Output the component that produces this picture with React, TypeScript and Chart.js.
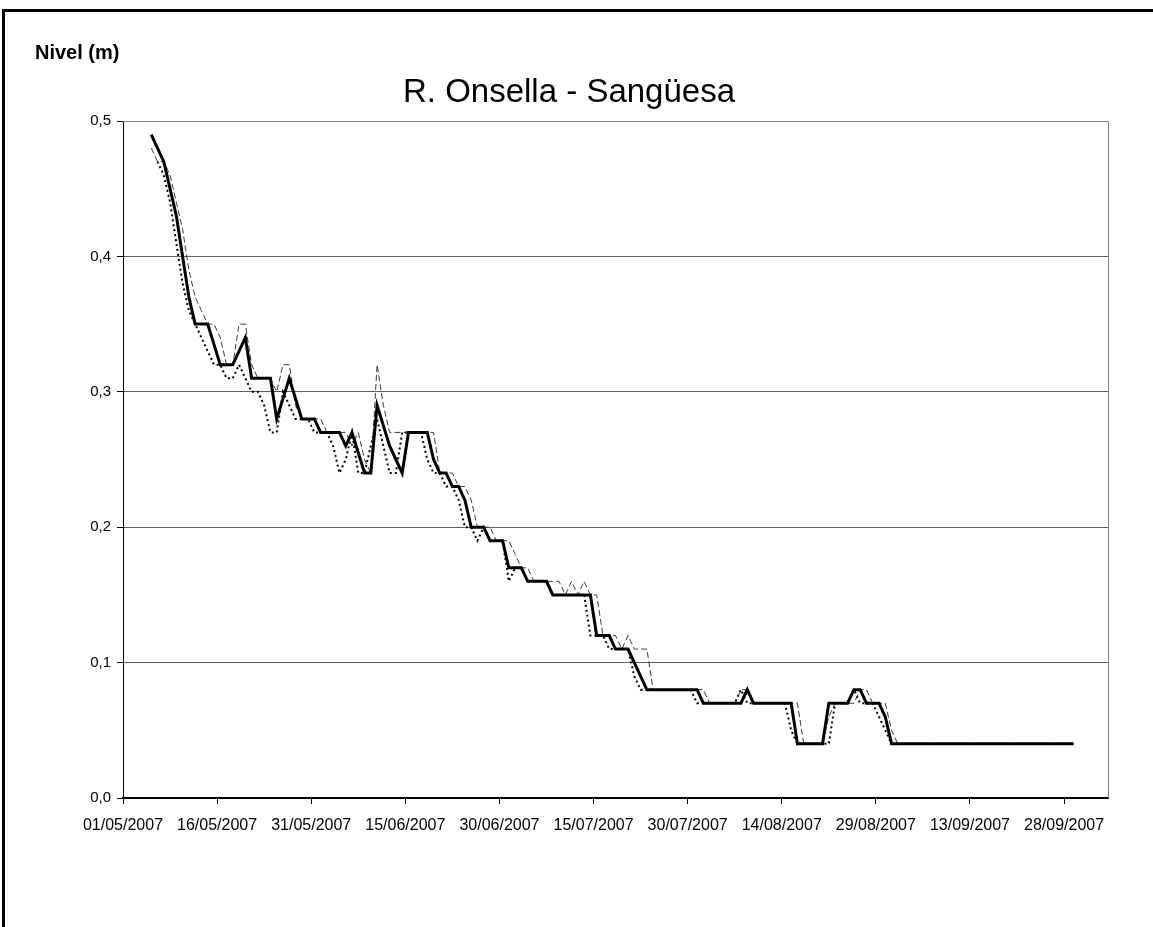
import React, { useEffect, useRef } from 'react';
import { Chart, registerables } from 'chart.js';

Chart.register(...registerables);

// ---------- text ----------
const TITLE = 'R. Onsella - Sangüesa';
const Y_LABEL = 'Nivel (m)';

// ---------- axes ----------
const AXIS_START = '01/05/2007';
const AXIS_END = '05/10/2007';
const xTickLabels = [
  '01/05/2007', '16/05/2007', '31/05/2007', '15/06/2007', '30/06/2007', '15/07/2007',
  '30/07/2007', '14/08/2007', '29/08/2007', '13/09/2007', '28/09/2007',
];
const yMin = 0;
const yMax = 0.5;
const yStep = 0.1;

// ---------- data: daily values from FIRST_DAY ----------
const FIRST_DAY = '05/05/2007';

// thick solid series
const nivelPrincipal = [
  0.49, 0.48, 0.47, 0.45, 0.43, 0.40, 0.37, 0.35, 0.35, 0.35,
  0.335, 0.32, 0.32, 0.32, 0.33, 0.34, 0.31, 0.31, 0.31, 0.31,
  0.28, 0.295, 0.31, 0.295, 0.28, 0.28, 0.28, 0.27, 0.27, 0.27,
  0.27, 0.26, 0.27, 0.255, 0.24, 0.24, 0.29, 0.275, 0.26, 0.25,
  0.24, 0.27, 0.27, 0.27, 0.27, 0.25, 0.24, 0.24, 0.23, 0.23,
  0.22, 0.20, 0.20, 0.20, 0.19, 0.19, 0.19, 0.17, 0.17, 0.17,
  0.16, 0.16, 0.16, 0.16, 0.15, 0.15, 0.15, 0.15, 0.15, 0.15,
  0.15, 0.12, 0.12, 0.12, 0.11, 0.11, 0.11, 0.10, 0.09, 0.08,
  0.08, 0.08, 0.08, 0.08, 0.08, 0.08, 0.08, 0.08, 0.07, 0.07,
  0.07, 0.07, 0.07, 0.07, 0.07, 0.08, 0.07, 0.07, 0.07, 0.07,
  0.07, 0.07, 0.07, 0.04, 0.04, 0.04, 0.04, 0.04, 0.07, 0.07,
  0.07, 0.07, 0.08, 0.08, 0.07, 0.07, 0.07, 0.06, 0.04, 0.04,
  0.04, 0.04, 0.04, 0.04, 0.04, 0.04, 0.04, 0.04, 0.04, 0.04,
  0.04, 0.04, 0.04, 0.04, 0.04, 0.04, 0.04, 0.04, 0.04, 0.04,
  0.04, 0.04, 0.04, 0.04, 0.04, 0.04, 0.04, 0.04,
];

// thin dashed series
const nivelDiscontinuo = [
  0.48, 0.47, 0.47, 0.46, 0.44, 0.42, 0.39, 0.37, 0.36, 0.35,
  0.35, 0.34, 0.32, 0.32, 0.35, 0.35, 0.32, 0.31, 0.31, 0.31,
  0.30, 0.32, 0.32, 0.29, 0.28, 0.28, 0.28, 0.28, 0.27, 0.27,
  0.27, 0.27, 0.26, 0.27, 0.25, 0.24, 0.32, 0.29, 0.27, 0.27,
  0.27, 0.27, 0.27, 0.27, 0.27, 0.27, 0.24, 0.24, 0.24, 0.23,
  0.23, 0.22, 0.20, 0.20, 0.20, 0.19, 0.19, 0.19, 0.18, 0.17,
  0.17, 0.16, 0.16, 0.16, 0.16, 0.16, 0.15, 0.16, 0.15, 0.16,
  0.15, 0.15, 0.12, 0.12, 0.12, 0.11, 0.12, 0.11, 0.11, 0.11,
  0.08, 0.08, 0.08, 0.08, 0.08, 0.08, 0.08, 0.08, 0.08, 0.07,
  0.07, 0.07, 0.07, 0.07, 0.08, 0.08, 0.07, 0.07, 0.07, 0.07,
  0.07, 0.07, 0.07, 0.07, 0.04, 0.04, 0.04, 0.04, 0.06, 0.07,
  0.07, 0.07, 0.07, 0.08, 0.08, 0.07, 0.07, 0.07, 0.05, 0.04,
  0.04, 0.04, 0.04, 0.04, 0.04, 0.04, 0.04, 0.04, 0.04, 0.04,
  0.04, 0.04, 0.04, 0.04, 0.04, 0.04, 0.04, 0.04, 0.04, 0.04,
  0.04, 0.04, 0.04, 0.04, 0.04, 0.04, 0.04, 0.04,
];

// dotted series
const nivelPunteado = [
  null, 0.47, 0.46, 0.44, 0.41, 0.38, 0.36, 0.35, 0.34, 0.33,
  0.32, 0.32, 0.31, 0.31, 0.32, 0.31, 0.30, 0.30, 0.29, 0.27,
  0.27, 0.30, 0.29, 0.28, 0.28, 0.28, 0.27, 0.27, 0.27, 0.26,
  0.24, 0.25, 0.27, 0.24, 0.24, 0.26, 0.28, 0.26, 0.24, 0.24,
  0.27, 0.27, 0.27, 0.27, 0.25, 0.24, 0.24, 0.23, 0.23, 0.22,
  0.20, 0.20, 0.19, 0.20, 0.19, 0.19, 0.19, 0.16, 0.17, 0.17,
  0.16, 0.16, 0.16, 0.16, 0.15, 0.15, 0.15, 0.15, 0.15, 0.15,
  0.12, 0.12, 0.12, 0.11, 0.11, 0.11, 0.11, 0.09, 0.08, 0.08,
  0.08, 0.08, 0.08, 0.08, 0.08, 0.08, 0.08, 0.07, 0.07, 0.07,
  0.07, 0.07, 0.07, 0.07, 0.08, 0.07, 0.07, 0.07, 0.07, 0.07,
  0.07, 0.07, 0.05, 0.04, 0.04, 0.04, 0.04, 0.04, 0.04, 0.07,
  0.07, 0.07, 0.08, 0.07, 0.07, 0.07, 0.06, 0.05, 0.04, 0.04,
  0.04, 0.04, 0.04, 0.04, 0.04, 0.04, 0.04, 0.04, 0.04, 0.04,
  0.04, 0.04, 0.04, 0.04, 0.04, 0.04, 0.04, 0.04, 0.04, 0.04,
  0.04, 0.04, 0.04, 0.04, 0.04, 0.04, 0.04, 0.04,
];

// ---------- helpers ----------
const DAY = 86400000;
function parseDate(s: string): number {
  const [d, m, y] = s.split('/').map(Number);
  return Date.UTC(y, m - 1, d);
}
const axisStartMs = parseDate(AXIS_START);
const dayOffset = (s: string) => (parseDate(s) - axisStartMs) / DAY;
const tickDays = xTickLabels.map(dayOffset);
const firstOffset = dayOffset(FIRST_DAY);
// Excel-style date axis: each day's point sits in the middle of its day slot
const toPoints = (vals: (number | null)[]) =>
  vals.map((v, i) => ({ x: firstOffset + i + 0.5, y: v }));

const FONT = '"Liberation Sans", Arial, Helvetica, sans-serif';

const decorPlugin = {
  id: 'decor',
  beforeDatasetsDraw(chart: any) {
    const { ctx, chartArea: a } = chart;
    ctx.save();
    ctx.strokeStyle = '#7f7f7f';
    ctx.lineWidth = 1;
    ctx.beginPath();
    ctx.moveTo(a.left, a.top + 0.5);
    ctx.lineTo(a.right + 0.5, a.top + 0.5);
    ctx.lineTo(a.right + 0.5, a.bottom);
    ctx.stroke();
    ctx.restore();
  },
  afterDraw(chart: any) {
    const { ctx } = chart;
    ctx.save();
    ctx.fillStyle = '#000';
    ctx.textBaseline = 'middle';
    ctx.textAlign = 'center';
    ctx.font = `33px ${FONT}`;
    ctx.fillText(TITLE, 569, 93);
    ctx.textAlign = 'left';
    ctx.font = `bold 20px ${FONT}`;
    ctx.fillText(Y_LABEL, 35, 53);
    ctx.restore();
  },
};

export default function App() {
  const ref = useRef<HTMLCanvasElement | null>(null);

  useEffect(() => {
    if (!ref.current) return;
    const chart = new Chart(ref.current, {
      type: 'line',
      data: {
        datasets: [
          {
            label: 'principal',
            data: toPoints(nivelPrincipal),
            borderColor: '#000',
            borderWidth: 3,
            pointRadius: 0,
            tension: 0,
            order: 0,
          },
          {
            label: 'discontinuo',
            data: toPoints(nivelDiscontinuo),
            borderColor: '#3a3a3a',
            borderWidth: 1,
            borderDash: [6, 3],
            pointRadius: 0,
            tension: 0,
            order: 1,
          },
          {
            label: 'punteado',
            data: toPoints(nivelPunteado),
            borderColor: '#000',
            borderWidth: 2,
            borderDash: [2, 3],
            borderCapStyle: 'butt',
            pointRadius: 0,
            tension: 0,
            order: 2,
          },
        ] as any,
      },
      plugins: [decorPlugin],
      options: {
        animation: false,
        responsive: false,
        devicePixelRatio: 1,
        layout: { padding: { left: 0, top: 121, right: 45, bottom: 0 } },
        plugins: {
          legend: { display: false },
          title: { display: false },
          tooltip: { enabled: false },
        },
        scales: {
          x: {
            type: 'linear',
            min: 0,
            max: dayOffset(AXIS_END),
            afterBuildTicks: (scale: any) => {
              scale.ticks = tickDays.map((v) => ({ value: v }));
            },
            afterFit: (scale: any) => {
              scale.height = 129;
            },
            grid: {
              drawOnChartArea: false,
              drawTicks: true,
              tickLength: 6,
              color: '#000',
            },
            border: { display: true, color: '#000', width: 2 },
            ticks: {
              autoSkip: false,
              maxRotation: 0,
              minRotation: 0,
              padding: 12,
              color: '#000',
              font: { family: FONT, size: 16 },
              callback: (v: any) => {
                const i = tickDays.indexOf(Number(v));
                return i >= 0 ? xTickLabels[i] : '';
              },
            },
          },
          y: {
            type: 'linear',
            min: yMin,
            max: yMax,
            afterFit: (scale: any) => {
              scale.width = 123;
            },
            grid: {
              color: (c: any) => (c.tick && c.tick.value === 0 ? 'rgba(0,0,0,0)' : '#5f5f5f'),
              tickColor: '#000',
              tickLength: 6,
              lineWidth: 1,
            },
            border: { display: true, color: '#000', width: 1 },
            ticks: {
              stepSize: yStep,
              padding: 6,
              color: '#000',
              font: { family: FONT, size: 15 },
              callback: (v: any) => Number(v).toFixed(1).replace('.', ','),
            },
          },
        },
      } as any,
    });
    return () => chart.destroy();
  }, []);

  return (
    <div style={{ position: 'fixed', left: 0, top: 0, width: 1153, height: 927, overflow: 'hidden', background: '#fff' }}>
      <div
        style={{
          position: 'absolute',
          left: 2,
          top: 9,
          width: 1300,
          height: 1100,
          border: '3px solid #000',
          boxSizing: 'border-box',
        }}
      />
      <canvas
        ref={ref}
        width={1153}
        height={927}
        style={{ position: 'absolute', left: 0, top: 0, width: 1153, height: 927 }}
      />
    </div>
  );
}
